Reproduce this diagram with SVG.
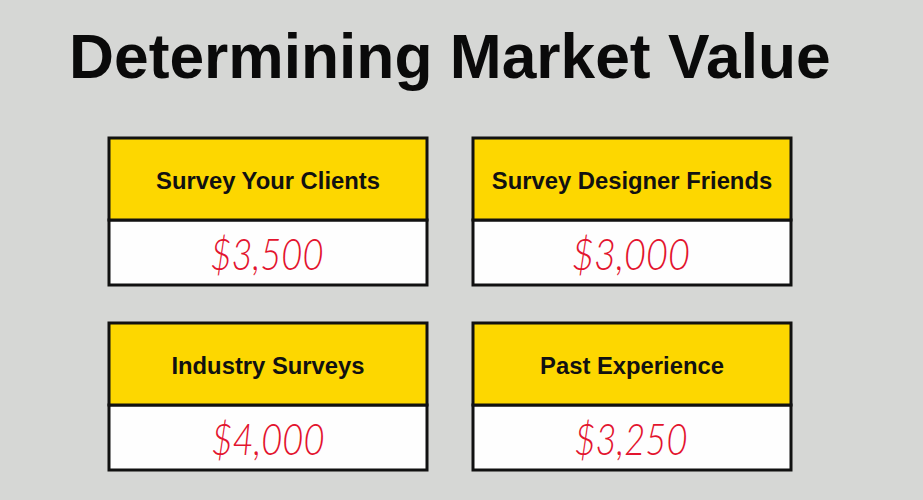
<svg xmlns="http://www.w3.org/2000/svg" width="923" height="500" viewBox="0 0 923 500">
<style>
.bg{fill:#d6d7d5}
.head{fill:#fdd700;stroke:#111;stroke-width:3}
.body{fill:#fefefe;stroke:#111;stroke-width:3}
.ht{font-family:"Liberation Sans",Arial,sans-serif;font-weight:bold;font-size:23.8px;fill:#111;text-anchor:middle}
.val{font-family:Lato,"Liberation Sans",sans-serif;font-weight:300;font-style:italic;font-size:43px;fill:#e3142e;text-anchor:middle}
.title{font-family:"Liberation Sans",Arial,sans-serif;font-weight:bold;font-size:62.3px;fill:#0a0a0a}
</style>
<rect class="bg" x="0" y="0" width="923" height="500"/>
<text class="title" x="69" y="78">Determining Market Value</text>
<g id="n1">
<rect class="body" x="109" y="220" width="318" height="65"/>
<rect class="head" x="109" y="138" width="318" height="82"/>
<text class="ht" x="268" y="189">Survey Your Clients</text>
<text class="val" x="267" y="270" textLength="113" lengthAdjust="spacingAndGlyphs">$3,500</text>
</g>
<g id="n2">
<rect class="body" x="473" y="220" width="318" height="65"/>
<rect class="head" x="473" y="138" width="318" height="82"/>
<text class="ht" x="632" y="189">Survey Designer Friends</text>
<text class="val" x="631" y="270" textLength="118" lengthAdjust="spacingAndGlyphs">$3,000</text>
</g>
<g id="n3">
<rect class="body" x="109" y="405" width="318" height="65"/>
<rect class="head" x="109" y="323" width="318" height="82"/>
<text class="ht" x="268" y="374">Industry Surveys</text>
<text class="val" x="268" y="455" textLength="113" lengthAdjust="spacingAndGlyphs">$4,000</text>
</g>
<g id="n4">
<rect class="body" x="473" y="405" width="318" height="65"/>
<rect class="head" x="473" y="323" width="318" height="82"/>
<text class="ht" x="632" y="374">Past Experience</text>
<text class="val" x="631" y="455" textLength="113" lengthAdjust="spacingAndGlyphs">$3,250</text>
</g>
<g id="connectors"></g>
</svg>
